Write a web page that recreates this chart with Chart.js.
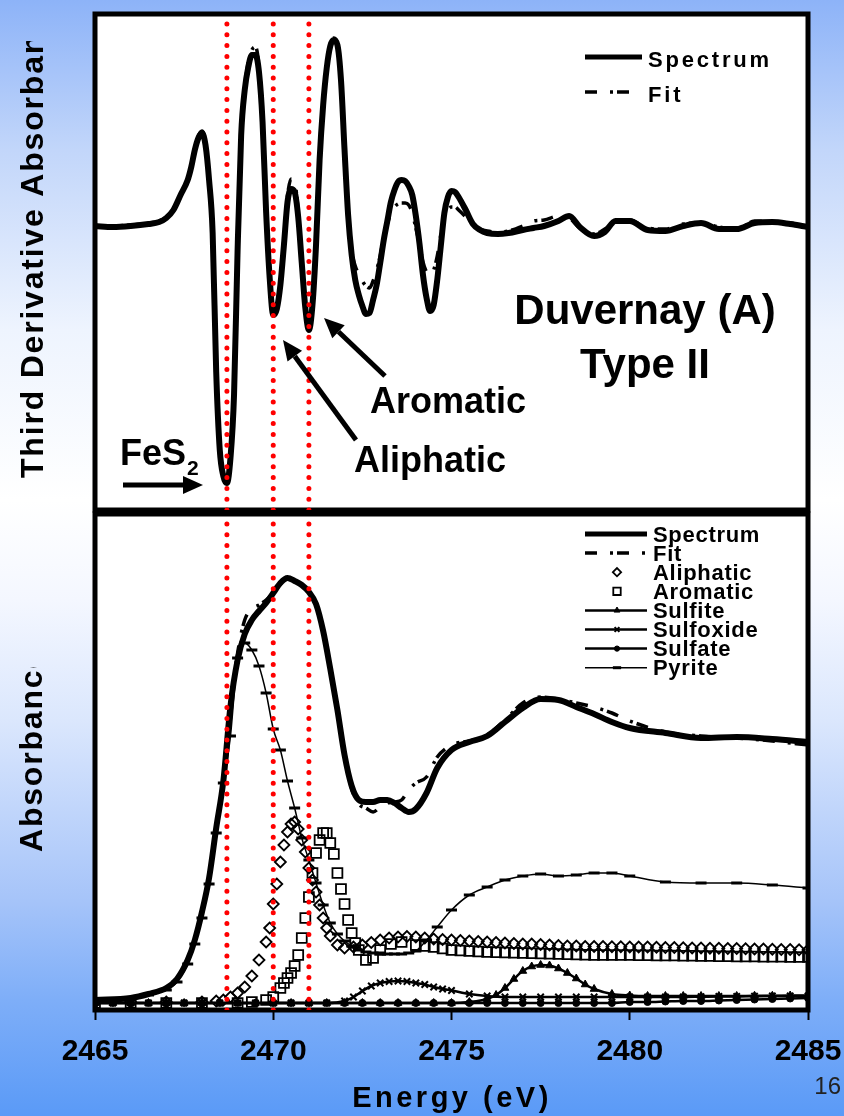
<!DOCTYPE html>
<html>
<head>
<meta charset="utf-8">
<title>Duvernay (A) Type II</title>
<script src="https://cdn.jsdelivr.net/npm/chart.js@4.4.1/dist/chart.umd.min.js"></script>
<style>
  html, body { margin: 0; padding: 0; }
  body {
    width: 844px; height: 1116px; position: relative; overflow: hidden;
    background: linear-gradient(to bottom, #8db3f8 0px, #c2d6fa 150px, #eef4fe 330px, #ffffff 500px,
                #f4f7ff 600px, #dbe7fd 720px, #a6c4f9 900px, #7eaef8 1000px, #5a9af7 1116px);
  }
  canvas { position: absolute; left: 0; top: 0; }
</style>
</head>
<body>
<canvas id="graficaDerivada" width="844" height="1116"></canvas>
<canvas id="graficaAbsorbancia" width="844" height="1116"></canvas>
<script>
/* ═══════════════════════════════════════
   Duvernay (A) Type II — XANES de azufre
   ═══════════════════════════════════════ */

// Eje de energía (eV)
const ticksEnergia = [2465, 2470, 2475, 2480, 2485];
// Referencias: pirita, alifático, aromático
const lineasReferencia = [2468.7, 2470.0, 2471.0];

/* ── Panel superior: tercera derivada ── */
const energiaSup = [
    2465.0, 2465.5, 2466.0, 2466.5, 2466.8, 2467.0, 2467.2, 2467.4, 2467.6,
    2467.7, 2467.8, 2467.9, 2468.0, 2468.1, 2468.2, 2468.3, 2468.4, 2468.5, 2468.6, 2468.7, 2468.8, 2468.9,
    2469.0, 2469.1, 2469.2, 2469.3, 2469.4, 2469.5, 2469.6, 2469.7, 2469.8, 2469.9,
    2470.0, 2470.1, 2470.2, 2470.3, 2470.4, 2470.5, 2470.6, 2470.7, 2470.8, 2470.9,
    2471.0, 2471.1, 2471.2, 2471.3, 2471.4, 2471.5, 2471.6, 2471.7, 2471.8, 2471.9,
    2472.0, 2472.1, 2472.2, 2472.3, 2472.4, 2472.5, 2472.6, 2472.7, 2472.8, 2472.9,
    2473.0, 2473.1, 2473.2, 2473.3, 2473.4, 2473.5, 2473.6, 2473.7, 2473.8, 2473.9,
    2474.0, 2474.1, 2474.2, 2474.3, 2474.4, 2474.5, 2474.6, 2474.7, 2474.8, 2474.9,
    2475.0, 2475.1, 2475.2, 2475.4, 2475.6, 2475.8, 2476.0,
    2476.3, 2476.6, 2477.0, 2477.3, 2477.6, 2478.0, 2478.3, 2478.6, 2479.0, 2479.3, 2479.6, 2480.0,
    2480.5, 2481.0, 2481.5, 2482.0, 2482.5, 2483.0, 2483.5, 2484.0, 2484.5, 2485.0
];
const espectroSup = [
    0.00, -0.01, 0.00, 0.02, 0.04, 0.08, 0.16, 0.31, 0.46,
    0.59, 0.76, 0.88, 0.93, 0.81, 0.46, -0.07, -1.46, -2.24, -2.50, -2.57, -2.32, -1.69,
    -0.24, 0.91, 1.36, 1.59, 1.71, 1.71, 1.54, 1.04, 0.14, -0.52,
    -0.89, -0.83, -0.59, -0.19, 0.24, 0.37, 0.34, 0.09, -0.37, -0.82,
    -1.04, -0.79, -0.19, 0.66, 1.21, 1.58, 1.80, 1.86, 1.81, 1.46,
    0.76, 0.11, -0.29, -0.54, -0.69, -0.80, -0.88, -0.87, -0.74, -0.59,
    -0.37, -0.14, 0.05, 0.24, 0.36, 0.44, 0.46, 0.45, 0.40, 0.31,
    0.10, -0.17, -0.49, -0.72, -0.85, -0.79, -0.54, -0.20, 0.13, 0.29,
    0.35, 0.34, 0.29, 0.16, 0.02, -0.04, -0.07,
    -0.08, -0.07, -0.04, -0.02, 0.00, 0.05, 0.10, -0.01, -0.10, -0.06, 0.05, 0.05,
    -0.04, -0.05, 0.00, 0.03, -0.03, -0.03, 0.03, 0.04, 0.02, -0.01
];
const ajusteSup = [
    0.00, 0.00, 0.01, 0.03, 0.05, 0.09, 0.17, 0.31, 0.47,
    0.60, 0.77, 0.90, 0.95, 0.84, 0.50, -0.02, -1.38, -2.18, -2.48, -2.55, -2.34, -1.74,
    -0.30, 0.88, 1.38, 1.64, 1.76, 1.79, 1.60, 1.08, 0.18, -0.47,
    -0.84, -0.80, -0.55, -0.12, 0.30, 0.47, 0.44, 0.15, -0.33, -0.78,
    -0.98, -0.85, -0.25, 0.62, 1.20, 1.60, 1.82, 1.88, 1.82, 1.45,
    0.78, 0.15, -0.24, -0.40, -0.48, -0.55, -0.60, -0.62, -0.55, -0.44,
    -0.30, -0.11, 0.02, 0.13, 0.19, 0.22, 0.23, 0.23, 0.21, 0.13,
    -0.02, -0.18, -0.36, -0.46, -0.49, -0.44, -0.30, -0.09, 0.08, 0.16,
    0.19, 0.19, 0.16, 0.09, 0.01, -0.03, -0.05,
    -0.06, -0.05, 0.00, 0.05, 0.06, 0.10, 0.08, -0.02, -0.08, -0.03, 0.04, 0.06,
    -0.02, -0.03, 0.02, 0.03, -0.01, -0.04, 0.05, 0.04, 0.03, 0.00
];

/* ── Panel inferior: absorbancia ── */
const energiaInf = [
    2465.0, 2466.0, 2466.5, 2467.0, 2467.3, 2467.6,
    2467.8, 2468.0, 2468.2, 2468.4, 2468.6, 2468.8, 2469.0, 2469.2, 2469.4, 2469.6, 2469.8,
    2470.0, 2470.2, 2470.4, 2470.6, 2470.8, 2471.0, 2471.2, 2471.4, 2471.6, 2471.8,
    2472.0, 2472.2, 2472.4, 2472.6, 2472.8, 2473.0, 2473.2, 2473.4, 2473.6, 2473.8, 2474.0,
    2474.3, 2474.6,
    2475.0, 2475.5, 2476.0, 2476.5, 2477.0, 2477.5, 2478.0, 2478.5, 2479.0, 2479.5, 2480.0,
    2481.0, 2482.0, 2483.0, 2484.0, 2485.0
];
const espectroInf = [
    0.012, 0.020, 0.036, 0.060, 0.096, 0.172,
    0.252, 0.364, 0.500, 0.700, 0.888, 1.188, 1.372, 1.476, 1.532, 1.568, 1.600,
    1.640, 1.680, 1.700, 1.688, 1.672, 1.644, 1.596, 1.488, 1.336, 1.172,
    0.992, 0.868, 0.812, 0.804, 0.804, 0.812, 0.812, 0.800, 0.780, 0.764, 0.776,
    0.840, 0.940,
    1.012, 1.044, 1.068, 1.124, 1.180, 1.216, 1.212, 1.184, 1.156, 1.124, 1.100,
    1.080, 1.060, 1.064, 1.056, 1.044
];
const ajusteInf = [
    0.012, 0.020, 0.036, 0.060, 0.096, 0.172,
    0.256, 0.372, 0.500, 0.700, 0.892, 1.180, 1.400, 1.532, 1.576, 1.592, 1.612,
    1.640, 1.676, 1.696, 1.688, 1.668, 1.640, 1.592, 1.484, 1.332, 1.168,
    0.988, 0.856, 0.796, 0.780, 0.764, 0.784, 0.800, 0.804, 0.812, 0.852, 0.880,
    0.904, 0.984,
    1.032, 1.048, 1.072, 1.132, 1.200, 1.224, 1.216, 1.200, 1.184, 1.160, 1.128,
    1.084, 1.068, 1.060, 1.048, 1.032
];
const piritaInf = [
    0.008, 0.016, 0.032, 0.052, 0.084, 0.156,
    0.236, 0.340, 0.476, 0.680, 0.880, 1.068, 1.380, 1.440, 1.412, 1.348, 1.240,
    1.096, 1.012, 0.888, 0.780, 0.660, 0.572, 0.480, 0.392, 0.320, 0.276,
    0.248, 0.228, 0.212, 0.204, 0.200, 0.200, 0.196, 0.196, 0.196, 0.200, 0.208,
    0.252, 0.304,
    0.372, 0.432, 0.464, 0.492, 0.508, 0.516, 0.508, 0.512, 0.520, 0.520, 0.508,
    0.484, 0.480, 0.480, 0.472, 0.460
];

const energiaAlifatico = [
    2465.0, 2466.0, 2467.0, 2468.0, 2468.4, 2468.6, 2468.8, 2469.0, 2469.2, 2469.4, 2469.6, 2469.8,
    2469.9, 2470.0, 2470.1, 2470.2, 2470.3, 2470.4, 2470.5, 2470.6, 2470.7, 2470.8, 2470.9,
    2471.0, 2471.1, 2471.2, 2471.3, 2471.4, 2471.5, 2471.6, 2471.8, 2472.0,
    2472.25, 2472.5, 2472.75, 2473.0, 2473.25, 2473.5, 2473.75, 2474.0, 2474.25, 2474.5, 2474.75,
    2475.0, 2475.25, 2475.5, 2475.75, 2476.0, 2476.25, 2476.5, 2476.75, 2477.0, 2477.25, 2477.5, 2477.75,
    2478.0, 2478.25, 2478.5, 2478.75, 2479.0, 2479.25, 2479.5, 2479.75, 2480.0, 2480.25, 2480.5, 2480.75,
    2481.0, 2481.25, 2481.5, 2481.75, 2482.0, 2482.25, 2482.5, 2482.75, 2483.0, 2483.25, 2483.5, 2483.75,
    2484.0, 2484.25, 2484.5, 2484.75, 2485.0
];
const alifatico = [
    0.004, 0.004, 0.004, 0.004, 0.008, 0.012, 0.024, 0.040, 0.064, 0.108, 0.172, 0.244,
    0.300, 0.396, 0.476, 0.564, 0.632, 0.684, 0.716, 0.724, 0.696, 0.652, 0.604,
    0.540, 0.492, 0.444, 0.392, 0.340, 0.300, 0.268, 0.232, 0.220,
    0.224, 0.232, 0.242, 0.252, 0.260, 0.264, 0.266, 0.264, 0.260, 0.256, 0.254,
    0.252, 0.250, 0.248, 0.246, 0.244, 0.242, 0.240, 0.238, 0.236, 0.236, 0.234, 0.232,
    0.230, 0.228, 0.228, 0.226, 0.226, 0.226, 0.225, 0.225, 0.224, 0.224, 0.224, 0.223,
    0.222, 0.222, 0.221, 0.220, 0.220, 0.219, 0.219, 0.218, 0.218, 0.217, 0.216, 0.216,
    0.215, 0.214, 0.214, 0.213, 0.212
];

const energiaAromatico = [
    2465.0, 2466.0, 2467.0, 2468.0, 2469.0, 2469.4, 2469.8, 2470.0, 2470.2,
    2470.3, 2470.4, 2470.5, 2470.6, 2470.7, 2470.8, 2470.9, 2471.0, 2471.1, 2471.2, 2471.3,
    2471.4, 2471.5, 2471.6, 2471.7, 2471.8, 2471.9, 2472.0, 2472.1, 2472.2, 2472.3, 2472.4,
    2472.6, 2472.8, 2473.0, 2473.3, 2473.6, 2474.0,
    2474.25, 2474.5, 2474.75,
    2475.0, 2475.25, 2475.5, 2475.75, 2476.0, 2476.25, 2476.5, 2476.75, 2477.0, 2477.25, 2477.5, 2477.75,
    2478.0, 2478.25, 2478.5, 2478.75, 2479.0, 2479.25, 2479.5, 2479.75, 2480.0, 2480.25, 2480.5, 2480.75,
    2481.0, 2481.25, 2481.5, 2481.75, 2482.0, 2482.25, 2482.5, 2482.75, 2483.0, 2483.25, 2483.5, 2483.75,
    2484.0, 2484.25, 2484.5, 2484.75, 2485.0
];
const aromatico = [
    0.000, 0.000, 0.000, 0.000, 0.000, 0.004, 0.012, 0.024, 0.060,
    0.080, 0.100, 0.120, 0.148, 0.192, 0.260, 0.340, 0.424, 0.520, 0.600, 0.652,
    0.680, 0.680, 0.640, 0.596, 0.520, 0.456, 0.396, 0.332, 0.280, 0.240, 0.212,
    0.172, 0.180, 0.212, 0.236, 0.244, 0.232,
    0.228, 0.224, 0.218,
    0.212, 0.210, 0.208, 0.206, 0.204, 0.203, 0.202, 0.201, 0.200, 0.199, 0.198, 0.197,
    0.196, 0.195, 0.194, 0.193, 0.192, 0.192, 0.192, 0.192, 0.192, 0.191, 0.191, 0.190,
    0.190, 0.190, 0.189, 0.189, 0.188, 0.188, 0.187, 0.187, 0.186, 0.186, 0.186, 0.185,
    0.185, 0.185, 0.184, 0.184, 0.184
];

const energiaSulfito = [
    2465.0, 2465.5, 2466.0, 2466.5, 2467.0, 2467.5, 2468.0, 2468.5, 2469.0, 2469.5, 2470.0,
    2470.5, 2471.0, 2471.5, 2472.0, 2472.5, 2473.0, 2473.5, 2474.0, 2474.5, 2475.0, 2475.5, 2476.0,
    2476.25, 2476.5, 2476.75, 2477.0, 2477.25, 2477.5, 2477.75, 2478.0, 2478.25, 2478.5, 2478.75, 2479.0,
    2479.5, 2480.0, 2480.5, 2481.0, 2481.5, 2482.0, 2482.5, 2483.0, 2483.5, 2484.0, 2484.5, 2485.0
];
const sulfito = [
    0, 0, 0, 0, 0, 0, 0, 0, 0, 0, 0,
    0, 0, 0, 0, 0, 0, 0, 0, 0, 0, 0.004, 0.016,
    0.032, 0.060, 0.096, 0.128, 0.146, 0.152, 0.150, 0.138, 0.120, 0.098, 0.074, 0.056,
    0.036, 0.030, 0.028, 0.028, 0.028, 0.028, 0.028, 0.028, 0.029, 0.029, 0.030, 0.030
];

const energiaSulfoxido = [
    2465.0, 2465.5, 2466.0, 2466.5, 2467.0, 2467.5, 2468.0, 2468.5, 2469.0, 2469.5, 2470.0,
    2470.5, 2471.0, 2471.5, 2472.0,
    2472.25, 2472.5, 2472.75, 2473.0, 2473.25, 2473.5, 2473.75, 2474.0, 2474.25, 2474.5, 2474.75, 2475.0,
    2475.5, 2476.0, 2476.5, 2477.0, 2477.5, 2478.0, 2478.5, 2479.0, 2479.5, 2480.0,
    2480.5, 2481.0, 2481.5, 2482.0, 2482.5, 2483.0, 2483.5, 2484.0, 2484.5, 2485.0
];
const sulfoxido = [
    0, 0, 0, 0, 0, 0, 0, 0, 0, 0, 0,
    0, 0, 0, 0.008,
    0.024, 0.048, 0.068, 0.080, 0.086, 0.088, 0.086, 0.080, 0.074, 0.064, 0.056, 0.050,
    0.036, 0.028, 0.024, 0.024, 0.024, 0.024, 0.024, 0.024, 0.024, 0.024,
    0.024, 0.024, 0.024, 0.025, 0.026, 0.026, 0.027, 0.028, 0.028, 0.028
];

const energiaSulfato = [
    2465.0, 2465.5, 2466.0, 2466.5, 2467.0, 2467.5, 2468.0, 2468.5, 2469.0, 2469.5,
    2470.0, 2470.5, 2471.0, 2471.5, 2472.0, 2472.5, 2473.0, 2473.5, 2474.0, 2474.5,
    2475.0, 2475.5, 2476.0, 2476.5, 2477.0, 2477.5, 2478.0, 2478.5, 2479.0, 2479.5,
    2480.0, 2480.5, 2481.0, 2481.5, 2482.0, 2482.5, 2483.0, 2483.5, 2484.0, 2484.5, 2485.0
];
const sulfato = [
    0, 0, 0, 0, 0, 0, 0, 0, 0, 0,
    0, 0, 0, 0, 0, 0, 0, 0, 0, 0,
    0, 0, 0, 0, 0, 0, 0, 0, 0, 0,
    0.004, 0.004, 0.006, 0.008, 0.008, 0.010, 0.012, 0.014, 0.016, 0.018, 0.020
];

// Rango vertical de cada panel
const rangoSup = { min: -2.84, max: 2.12 };
const rangoInf = { min: -0.028, max: 1.956 };

const FUENTE = '"Liberation Sans", Arial, Helvetica, sans-serif';
Chart.defaults.font.family = FUENTE;
Chart.defaults.color = '#000';

document.addEventListener('DOMContentLoaded', function () {
    inicializarDerivada();
    inicializarAbsorbancia();
});

const puntos = (xs, ys) => xs.map((x, i) => ({ x: x, y: ys[i] }));

/* ── Líneas punteadas rojas de referencia ── */
function lineasRojas(rango) {
    return lineasReferencia.map(e => ({
        data: [{ x: e, y: rango.min }, { x: e, y: rango.max }],
        borderColor: '#ff0000',
        borderWidth: 5,
        borderDash: [0, 10.8],
        borderCapStyle: 'round',
        pointRadius: 0,
        tension: 0
    }));
}

/* ── Fondo blanco y marco grueso de cada panel ── */
const marcoPanel = {
    id: 'marcoPanel',
    beforeDraw(chart) {
        const { ctx, chartArea: a } = chart;
        ctx.save();
        ctx.fillStyle = '#fff';
        ctx.fillRect(a.left, a.top, a.right - a.left, a.bottom - a.top);
        ctx.restore();
    },
    beforeDatasetsDraw(chart) {
        const { ctx, chartArea: a } = chart;
        ctx.save();
        ctx.strokeStyle = '#000';
        ctx.lineWidth = 5;
        ctx.strokeRect(a.left, a.top, a.right - a.left, a.bottom - a.top);
        ctx.restore();
    }
};

/* ── Leyenda dibujada a mano: línea + marcador + texto ── */
function dibujarLeyenda(chart, cfg) {
    const ctx = chart.ctx;
    const series = chart.data.datasets.filter(d => d.label);
    series.forEach((d, i) => {
        const y = cfg.y0 + i * cfg.paso;
        ctx.save();
        if (d.showLine !== false) {
            ctx.strokeStyle = d.borderColor;
            ctx.lineWidth = Math.min(d.borderWidth, 5);
            ctx.setLineDash(d.borderDash || []);
            ctx.beginPath();
            ctx.moveTo(cfg.x0, y);
            ctx.lineTo(cfg.x1, y);
            ctx.stroke();
            ctx.setLineDash([]);
        }
        if (d.pointRadius > 0 && Chart.helpers && Chart.helpers.drawPoint) {
            ctx.fillStyle = d.pointBackgroundColor || '#000';
            ctx.strokeStyle = d.pointBorderColor || '#000';
            ctx.lineWidth = d.pointBorderWidth || 1;
            Chart.helpers.drawPoint(ctx, {
                pointStyle: d.pointStyle,
                radius: d.pointRadius * 0.75,
                borderWidth: d.pointBorderWidth || 1,
                rotation: 0
            }, cfg.xMarca, y);
        }
        ctx.fillStyle = '#000';
        ctx.font = cfg.fuente;
        ctx.letterSpacing = cfg.espaciado;
        ctx.textAlign = 'left';
        ctx.textBaseline = 'alphabetic';
        ctx.fillText(d.label, cfg.xTexto, y + cfg.dyTexto);
        ctx.restore();
    });
}

/* ── Título vertical del eje Y, recortado por arriba ── */
function tituloVertical(ctx, texto, x, y, yCorte, yFin) {
    ctx.save();
    ctx.beginPath();
    ctx.rect(0, yCorte, 92, yFin - yCorte);
    ctx.clip();
    ctx.translate(x, y);
    ctx.rotate(-Math.PI / 2);
    ctx.font = 'bold 32px ' + FUENTE;
    ctx.letterSpacing = '1.8px';
    ctx.fillStyle = '#000';
    ctx.textAlign = 'left';
    ctx.textBaseline = 'alphabetic';
    ctx.fillText(texto, 0, 0);
    ctx.restore();
}

function flecha(ctx, x0, y0, x1, y1) {
    const ang = Math.atan2(y1 - y0, x1 - x0);
    const largo = 20, ancho = 9;
    const bx = x1 - largo * Math.cos(ang);
    const by = y1 - largo * Math.sin(ang);
    ctx.lineWidth = 5;
    ctx.beginPath();
    ctx.moveTo(x0, y0);
    ctx.lineTo(bx, by);
    ctx.stroke();
    ctx.beginPath();
    ctx.moveTo(x1, y1);
    ctx.lineTo(bx + ancho * Math.sin(ang), by - ancho * Math.cos(ang));
    ctx.lineTo(bx - ancho * Math.sin(ang), by + ancho * Math.cos(ang));
    ctx.closePath();
    ctx.fill();
}

/* ── Textos y flechas del panel superior ── */
const anotacionesSup = {
    id: 'anotacionesSup',
    afterDraw(chart) {
        const ctx = chart.ctx;
        dibujarLeyenda(chart, {
            x0: 585, x1: 642, xMarca: 614, xTexto: 648, y0: 57, paso: 35, dyTexto: 10,
            fuente: 'bold 22px ' + FUENTE, espaciado: '2.8px'
        });

        ctx.save();
        ctx.fillStyle = '#000';
        ctx.strokeStyle = '#000';
        ctx.textBaseline = 'alphabetic';

        ctx.font = 'bold 42px ' + FUENTE;
        ctx.textAlign = 'center';
        ctx.fillText('Duvernay (A)', 645, 324);
        ctx.fillText('Type II', 645, 378);

        ctx.font = 'bold 36px ' + FUENTE;
        ctx.fillText('Aromatic', 448, 413);
        ctx.fillText('Aliphatic', 430, 472);
        flecha(ctx, 385, 376, 324, 318);
        flecha(ctx, 356, 440, 283, 340);

        // FeS2 con subíndice
        ctx.textAlign = 'left';
        ctx.fillText('FeS', 120, 465);
        ctx.font = 'bold 21px ' + FUENTE;
        ctx.fillText('2', 187, 475);
        flecha(ctx, 123, 485, 203, 485);
        ctx.restore();

        tituloVertical(ctx, 'Third Derivative Absorbance', 43, 478, 41, 511);
    }
};

/* ── Textos del panel inferior ── */
const anotacionesInf = {
    id: 'anotacionesInf',
    afterDraw(chart) {
        const ctx = chart.ctx;
        dibujarLeyenda(chart, {
            x0: 585, x1: 647, xMarca: 617, xTexto: 653, y0: 534, paso: 19.1, dyTexto: 7.5,
            fuente: 'bold 22px ' + FUENTE, espaciado: '0.7px'
        });

        tituloVertical(ctx, 'Absorbance', 42, 852, 667, 1116);

        ctx.save();
        ctx.fillStyle = '#000';
        ctx.textBaseline = 'alphabetic';
        ctx.textAlign = 'center';
        ctx.font = 'bold 29px ' + FUENTE;
        ctx.letterSpacing = '3.5px';
        ctx.fillText('Energy (eV)', 452, 1107);
        ctx.letterSpacing = '0px';
        ctx.textAlign = 'right';
        ctx.font = '24px ' + FUENTE;
        ctx.fillStyle = '#222';
        ctx.fillText('16', 841, 1094);
        ctx.restore();
    }
};

const opcionesBase = {
    responsive: false,
    animation: false,
    events: [],
    plugins: { legend: { display: false }, tooltip: { enabled: false } }
};

/* ── Gráfica superior ── */
function inicializarDerivada() {
    const canvas = document.getElementById('graficaDerivada');
    if (!canvas) return;

    new Chart(canvas, {
        type: 'line',
        data: {
            datasets: [
                ...lineasRojas(rangoSup),
                {
                    label: 'Spectrum',
                    data: puntos(energiaSup, espectroSup),
                    borderColor: '#000',
                    borderWidth: 6,
                    borderJoinStyle: 'round',
                    pointRadius: 0,
                    cubicInterpolationMode: 'monotone'
                },
                {
                    label: 'Fit',
                    data: puntos(energiaSup, ajusteSup),
                    borderColor: '#000',
                    borderWidth: 3.5,
                    borderDash: [12, 13, 3, 4],
                    pointRadius: 0,
                    cubicInterpolationMode: 'monotone'
                }
            ]
        },
        options: {
            ...opcionesBase,
            layout: { padding: { left: 95, right: 36, top: 14, bottom: 606 } },
            scales: {
                x: { type: 'linear', min: 2465, max: 2485, display: false },
                y: { min: rangoSup.min, max: rangoSup.max, display: false }
            }
        },
        plugins: [marcoPanel, anotacionesSup]
    });
}

/* ── Gráfica inferior ── */
function inicializarAbsorbancia() {
    const canvas = document.getElementById('graficaAbsorbancia');
    if (!canvas) return;

    const componente = (label, xs, ys, estilo) => Object.assign({
        label: label,
        data: puntos(xs, ys),
        borderColor: '#000',
        pointBorderColor: '#000',
        pointBackgroundColor: '#000',
        borderWidth: 2.5,
        cubicInterpolationMode: 'monotone'
    }, estilo);

    new Chart(canvas, {
        type: 'line',
        data: {
            datasets: [
                ...lineasRojas(rangoInf),
                {
                    label: 'Spectrum',
                    data: puntos(energiaInf, espectroInf),
                    borderColor: '#000',
                    borderWidth: 6,
                    borderJoinStyle: 'round',
                    pointRadius: 0,
                    cubicInterpolationMode: 'monotone'
                },
                {
                    label: 'Fit',
                    data: puntos(energiaInf, ajusteInf),
                    borderColor: '#000',
                    borderWidth: 3.5,
                    borderDash: [12, 13, 3, 4],
                    pointRadius: 0,
                    cubicInterpolationMode: 'monotone'
                },
                componente('Aliphatic', energiaAlifatico, alifatico, {
                    showLine: false, pointStyle: 'rectRot', pointRadius: 5.5,
                    pointBorderWidth: 1.8, pointBackgroundColor: 'rgba(255,255,255,0)'
                }),
                componente('Aromatic', energiaAromatico, aromatico, {
                    showLine: false, pointStyle: 'rect', pointRadius: 7,
                    pointBorderWidth: 1.8, pointBackgroundColor: 'rgba(255,255,255,0)'
                }),
                componente('Sulfite', energiaSulfito, sulfito, {
                    pointStyle: 'triangle', pointRadius: 4.5, pointBorderWidth: 1
                }),
                componente('Sulfoxide', energiaSulfoxido, sulfoxido, {
                    pointStyle: 'crossRot', pointRadius: 4.5, pointBorderWidth: 2
                }),
                componente('Sulfate', energiaSulfato, sulfato, {
                    pointStyle: 'circle', pointRadius: 3.5, pointBorderWidth: 1
                }),
                componente('Pyrite', energiaInf, piritaInf, {
                    borderWidth: 1.5, pointStyle: 'line', pointRadius: 5.5, pointBorderWidth: 3
                })
            ]
        },
        options: {
            ...opcionesBase,
            layout: { padding: { left: 95, right: 36, top: 514, bottom: 0 } },
            scales: {
                x: {
                    type: 'linear',
                    min: 2465,
                    max: 2485,
                    afterBuildTicks: escala => {
                        escala.ticks = ticksEnergia.map(v => ({ value: v }));
                    },
                    // Altura fija del eje y sin márgenes laterales extra por las etiquetas
                    afterFit: escala => {
                        escala.height = 106;
                        escala.paddingLeft = 0;
                        escala.paddingRight = 0;
                    },
                    grid: {
                        drawOnChartArea: false,
                        drawTicks: true,
                        tickLength: 10,
                        tickWidth: 2,
                        tickColor: '#000'
                    },
                    border: { display: false },
                    ticks: {
                        font: { size: 30, weight: 'bold' },
                        color: '#000',
                        padding: 14,
                        maxRotation: 0,
                        autoSkip: false,
                        callback: v => String(v)
                    }
                },
                y: { min: rangoInf.min, max: rangoInf.max, display: false }
            }
        },
        plugins: [marcoPanel, anotacionesInf]
    });
}
</script>
</body>
</html>
